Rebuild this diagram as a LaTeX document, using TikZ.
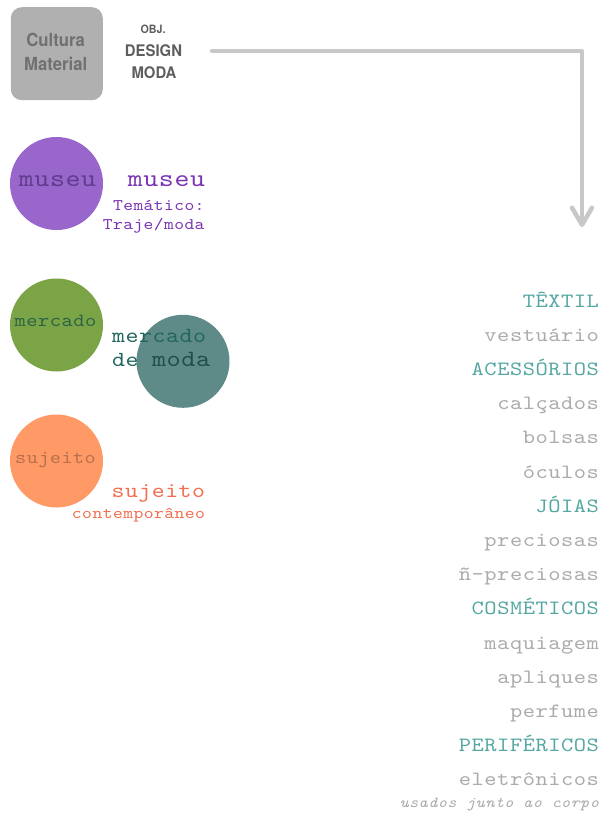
\documentclass[tikz,border=0pt]{standalone}
\usepackage{fontspec}
\newfontfamily\cour[LetterSpace=2.6,FakeStretch=1.15,ItalicFont=lmmono10-italic.otf]{lmmono10-regular.otf}
\newfontfamily\boxfont[FakeStretch=0.93]{TeX Gyre Heros}
\usetikzlibrary{arrows.meta}
\definecolor{boxgray}{HTML}{B0B0B0}
\definecolor{boxtext}{HTML}{707070}
\definecolor{objtext}{HTML}{5E5E5E}
\definecolor{arrowgray}{HTML}{C8C8C8}
\definecolor{purplec}{HTML}{9966CC}
\definecolor{purplein}{HTML}{5E3C8C}
\definecolor{purplelab}{HTML}{7A34B4}
\definecolor{greenc}{HTML}{7BA446}
\definecolor{greenin}{HTML}{2D6448}
\definecolor{tealc}{HTML}{5E8B88}
\definecolor{tealin}{HTML}{1E4F4A}
\definecolor{teallab}{HTML}{22665F}
\definecolor{orangec}{HTML}{FF9966}
\definecolor{orangein}{HTML}{B5704F}
\definecolor{orangelab}{HTML}{F26E50}
\definecolor{headc}{HTML}{55A8A2}
\definecolor{itemc}{HTML}{ABABAB}
\tikzset{
  fs/.style={font=\cour\fontsize{#1}{#1}\selectfont},
  bubble/.style={circle, minimum size=93pt, draw=none},
  head/.style={anchor=base east, fs=20.3, text=headc},
  item/.style={anchor=base east, fs=20.3, text=itemc},
  boxlbl/.style={anchor=base, text=boxtext, font=\boxfont\bfseries\fontsize{18}{18}\selectfont},
  objlbl/.style={anchor=base, text=objtext, font=\boxfont\bfseries\fontsize{#1}{#1}\selectfont},
}
\begin{document}
\begin{tikzpicture}[x=1pt,y=-1pt,inner sep=0pt,outer sep=0pt]
\useasboundingbox (0,0) rectangle (603,817);
\fill[white] (0,0) rectangle (603,817);

% top box
\node[fill=boxgray, rounded corners=11pt, minimum width=92pt, minimum height=93pt] (cm) at (56.8,53.7) {};
\node[boxlbl] (cult) at (55.7,46.7) {Cultura};
\node[boxlbl] (mat) at (55.7,70.7) {Material};
\node[objlbl=11.5] (obj) at (153,33.3) {OBJ.};
\node[objlbl=16] (design) at (153.5,56.7) {DESIGN};
\node[objlbl=16] (moda) at (154,78.3) {MODA};

% arrow
\coordinate (arrStart) at (212,51);
\coordinate (arrEnd) at (582,227);
\draw[arrowgray, line width=4.5pt, line join=round, line cap=round,
  -{Straight Barb[length=17pt,width=20pt,round]}] (arrStart) -| (arrEnd);

% museu
\node[bubble, fill=purplec] (museuC) at (56.5,183.5) {};
\node[anchor=base, fs=24.7, text=purplein] (museuIn) at (57.5,186.5) {museu};
\node[anchor=base east, fs=24.7, text=purplelab] (museuLab) at (205,186.5) {museu};
\node[anchor=base east, fs=16.2, text=purplelab] (tem) at (204.5,210) {Temático:};
\node[anchor=base east, fs=16.2, text=purplelab] (traje) at (204.5,229) {Traje/moda};

% mercado
\node[bubble, fill=greenc] (mercC) at (56.5,325) {};
\node[anchor=base, fs=18.6, text=greenin] (mercIn) at (55.5,326) {mercado};
\node[bubble, fill=tealc] (modaC) at (183,361.3) {};
\node[anchor=base west, fs=21.5, text=teallab] (mercLab) at (112,342) {mercado};
\node[anchor=base west, fs=21.5, text=teallab] (deLab) at (112,366) {de};
\node[anchor=base west, fs=23.4, text=tealin] (modaLab) at (152,366) {moda};

% sujeito
\node[bubble, fill=orangec] (sujC) at (56.5,461) {};
\node[anchor=base, fs=18.4, text=orangein] (sujIn) at (55.5,463.3) {sujeito};
\node[anchor=base east, fs=21.3, text=orangelab] (sujLab) at (205,497) {sujeito};
\node[anchor=base east, fs=16.3, text=orangelab] (contLab) at (205,518) {contemporâneo};

% list
\node[head] (t1) at (599,307) {TÊXTIL};
\node[item] (t2) at (599,341.2) {vestuário};
\node[head] (t3) at (599,375.4) {ACESSÓRIOS};
\node[item] (t4) at (599,409.6) {calçados};
\node[item] (t5) at (599,443.8) {bolsas};
\node[item] (t6) at (599,478.0) {óculos};
\node[head] (t7) at (599,512.2) {JÓIAS};
\node[item] (t8) at (599,546.4) {preciosas};
\node[item] (t9) at (599,580.6) {ñ-preciosas};
\node[head] (t10) at (599,614.8) {COSMÉTICOS};
\node[item] (t11) at (599,649.0) {maquiagem};
\node[item] (t12) at (599,683.2) {apliques};
\node[item] (t13) at (599,717.4) {perfume};
\node[head] (t14) at (599,751.6) {PERIFÉRICOS};
\node[item] (t15) at (599,785.8) {eletrônicos};
\node[anchor=base east, text=itemc, font={\cour\fontsize{15.2}{15.2}\selectfont\itshape}] (t16) at (599,807) {usados junto ao corpo};
\end{tikzpicture}
\end{document}
